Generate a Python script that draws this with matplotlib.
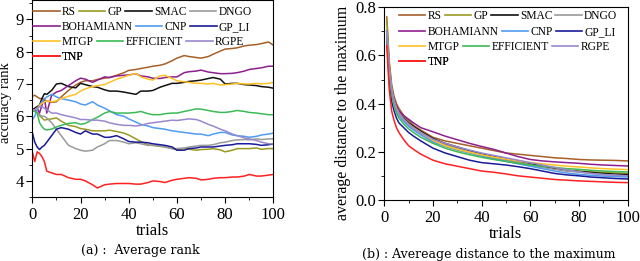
import matplotlib
matplotlib.use("Agg")
import matplotlib.pyplot as plt
from matplotlib.lines import Line2D
from matplotlib.ticker import MultipleLocator

plt.rcParams['font.family'] = ['Liberation Serif', 'DejaVu Serif']

names = ['RS', 'GP', 'SMAC', 'DNGO', 'BOHAMIANN', 'CNP', 'GP_LI',
         'MTGP', 'EFFICIENT', 'RGPE', 'TNP']
colors = ['#a6602a', '#999922', '#111111', '#9a9a9a', '#8e1f8e', '#4f9cf0',
          '#1a1a9a', '#ffc125', '#3cba55', '#9a88cc', '#ff2020']
legend_rows = [['RS', 'GP', 'SMAC', 'DNGO'],
               ['BOHAMIANN', 'CNP', 'GP_LI'],
               ['MTGP', 'EFFICIENT', 'RGPE'],
               ['TNP']]

# (a) average rank
x_a = [0, 1, 2, 3, 4, 5, 6, 8, 10, 12, 15, 18, 20, 22, 25, 27, 30, 32, 35, 38,
       40, 43, 45, 48, 50, 53, 55, 58, 60, 63, 65, 68, 70, 73, 75, 78, 80, 83,
       85, 88, 90, 93, 95, 98, 100]
rank_rs = [6.62, 6.65, 6.6, 6.55, 6.55, 6.5, 6.48, 6.43, 6.45, 6.6,
           6.8, 6.97, 7.05, 7.1, 7.1, 7.14, 7.18, 7.2, 7.27, 7.35, 7.42, 7.45,
           7.48, 7.52, 7.55, 7.58, 7.62, 7.72, 7.8, 7.88, 7.85, 7.82, 7.8, 7.85,
           7.92, 8.02, 8.08, 8.1, 8.12, 8.18, 8.2, 8.22, 8.25, 8.3, 8.2]
rank_gp = [6.2, 6.2, 6.12, 6.02, 5.95, 5.88, 5.9, 5.92, 5.95, 5.85,
           5.72, 5.68, 5.62, 5.6, 5.55, 5.55, 5.55, 5.57, 5.53, 5.48, 5.42, 5.3,
           5.22, 5.12, 5.1, 5.07, 5.05, 5.0, 4.97, 5.0, 4.98, 4.95, 4.97, 4.98,
           5.0, 4.96, 4.9, 4.95, 5.0, 5.0, 5.0, 5.02, 4.98, 5.0, 5.0]
rank_smac = [6.2, 6.25, 6.3, 6.35, 6.55, 6.7, 6.68, 6.8, 7.0, 7.02,
             6.92, 6.88, 7.02, 6.98, 6.92, 6.9, 6.82, 6.78, 6.78, 6.75, 6.72, 6.68,
             6.78, 6.78, 6.8, 6.9, 6.95, 7.02, 7.02, 7.05, 7.08, 7.1, 7.12, 7.17,
             7.2, 7.15, 7.0, 7.02, 7.02, 6.98, 6.97, 6.95, 6.92, 6.9, 6.87]
rank_dngo = [6.2, 6.2, 6.1, 6.05, 6.0, 6.0, 5.95, 5.8, 5.6, 5.4,
             5.1, 5.0, 4.95, 4.92, 4.95, 5.05, 5.15, 5.25, 5.25, 5.2, 5.15, 5.18,
             5.15, 5.1, 5.1, 5.08, 5.05, 5.0, 5.0, 5.02, 5.05, 5.08, 5.1, 5.1,
             5.12, 5.18, 5.2, 5.25, 5.27, 5.28, 5.27, 5.3, 5.28, 5.3, 5.3]
rank_boh = [6.2, 6.15, 6.25, 6.1, 6.35, 6.55, 6.1, 6.65, 6.75, 6.8,
            6.95, 7.1, 7.18, 7.15, 7.05, 7.12, 7.22, 7.2, 7.25, 7.27, 7.28, 7.32,
            7.25, 7.22, 7.18, 7.17, 7.2, 7.22, 7.22, 7.35, 7.38, 7.4, 7.43, 7.37,
            7.35, 7.32, 7.32, 7.33, 7.35, 7.4, 7.45, 7.48, 7.5, 7.55, 7.55]
rank_cnp = [5.9, 6.0, 6.2, 6.35, 6.45, 6.53, 6.6, 6.68, 6.6, 6.55,
            6.5, 6.45, 6.38, 6.35, 6.45, 6.35, 6.25, 6.17, 6.05, 6.0, 5.92, 5.82,
            5.75, 5.7, 5.65, 5.62, 5.6, 5.55, 5.53, 5.5, 5.48, 5.45, 5.45, 5.4,
            5.45, 5.5, 5.5, 5.42, 5.4, 5.38, 5.35, 5.38, 5.42, 5.45, 5.48]
rank_gpli = [5.5, 5.2, 5.05, 4.97, 5.05, 5.1, 5.2, 5.4, 5.6, 5.65,
             5.6, 5.5, 5.45, 5.55, 5.45, 5.45, 5.35, 5.35, 5.4, 5.3, 5.22, 5.2,
             5.2, 5.18, 5.15, 5.12, 5.1, 5.05, 4.95, 4.95, 5.0, 5.02, 5.05, 5.05,
             5.05, 5.08, 5.1, 5.12, 5.15, 5.15, 5.15, 5.13, 5.1, 5.12, 5.15]
rank_mtgp = [6.15, 6.2, 6.25, 6.33, 6.4, 6.45, 6.48, 6.45, 6.48, 6.55,
             6.62, 6.68, 6.78, 6.85, 6.92, 6.95, 6.98, 7.05, 7.15, 7.22, 7.27, 7.33,
             7.22, 7.15, 7.12, 7.25, 7.27, 7.17, 7.1, 7.07, 7.05, 7.02, 7.02, 7.0,
             7.02, 6.97, 6.98, 7.0, 7.02, 7.0, 7.0, 7.02, 7.0, 7.02, 7.05]
rank_eff = [6.2, 6.15, 6.1, 5.8, 5.68, 5.6, 5.58, 5.6, 5.67, 5.72,
            5.78, 5.8, 5.75, 5.78, 5.9, 5.97, 6.1, 6.15, 6.1, 6.1, 6.1, 6.12,
            6.15, 6.08, 6.05, 6.05, 6.08, 6.1, 6.1, 6.15, 6.18, 6.23, 6.22, 6.18,
            6.15, 6.12, 6.12, 6.15, 6.18, 6.15, 6.12, 6.1, 6.08, 6.05, 6.05]
rank_rgpe = [6.2, 6.2, 6.25, 6.3, 6.3, 6.25, 6.2, 6.1, 6.1, 6.05,
             6.0, 5.95, 5.9, 5.9, 5.88, 5.88, 5.85, 5.8, 5.75, 5.72, 5.72, 5.7,
             5.72, 5.78, 5.8, 5.83, 5.85, 5.88, 5.87, 5.9, 5.92, 5.9, 5.85, 5.75,
             5.7, 5.6, 5.55, 5.45, 5.4, 5.33, 5.3, 5.25, 5.2, 5.15, 5.15]
rank_tnp = [4.9, 4.6, 4.9, 4.85, 4.75, 4.6, 4.3, 4.25, 4.2, 4.2,
            4.1, 4.05, 4.05, 4.0, 3.88, 3.78, 3.88, 3.9, 3.92, 3.92, 3.92, 3.9,
            3.9, 3.95, 4.0, 3.98, 3.95, 4.02, 4.05, 4.08, 4.1, 4.08, 4.03, 4.05,
            4.08, 4.1, 4.1, 4.12, 4.12, 4.15, 4.2, 4.15, 4.15, 4.18, 4.2]
ranks = [rank_rs, rank_gp, rank_smac, rank_dngo, rank_boh, rank_cnp,
         rank_gpli, rank_mtgp, rank_eff, rank_rgpe, rank_tnp]

# (b) average distance to the maximum
x_b = [1, 2, 3, 4, 5, 6, 8, 10, 12, 15, 20, 25, 30, 35, 40, 45, 50, 55, 60,
       65, 70, 75, 80, 85, 90, 95, 100]
dist_rs = [0.76, 0.58, 0.48, 0.43, 0.40, 0.38, 0.35, 0.33, 0.31, 0.29, 0.26,
           0.245, 0.235, 0.225, 0.215, 0.205, 0.195, 0.19, 0.185, 0.18, 0.175,
           0.172, 0.168, 0.166, 0.165, 0.164, 0.162]
dist_gp = [0.75, 0.57, 0.47, 0.42, 0.39, 0.37, 0.34, 0.32, 0.30, 0.28, 0.25,
           0.232, 0.215, 0.2, 0.185, 0.175, 0.165, 0.155, 0.145, 0.137, 0.13,
           0.125, 0.12, 0.117, 0.114, 0.112, 0.11]
dist_smac = [0.70, 0.55, 0.46, 0.41, 0.38, 0.36, 0.34, 0.32, 0.305, 0.285,
             0.255, 0.235, 0.22, 0.205, 0.19, 0.18, 0.17, 0.162, 0.152, 0.14,
             0.13, 0.122, 0.118, 0.114, 0.11, 0.107, 0.105]
dist_dngo = [0.70, 0.55, 0.46, 0.41, 0.38, 0.355, 0.33, 0.31, 0.295, 0.275,
             0.245, 0.228, 0.213, 0.2, 0.187, 0.176, 0.165, 0.155, 0.145, 0.135,
             0.127, 0.12, 0.115, 0.11, 0.106, 0.103, 0.1]
dist_boh = [0.70, 0.55, 0.46, 0.42, 0.39, 0.37, 0.35, 0.335, 0.32, 0.30,
            0.283, 0.265, 0.25, 0.235, 0.222, 0.21, 0.195, 0.18, 0.168, 0.162,
            0.158, 0.155, 0.152, 0.148, 0.145, 0.143, 0.141]
dist_cnp = [0.70, 0.54, 0.45, 0.40, 0.37, 0.35, 0.325, 0.305, 0.29, 0.27,
            0.24, 0.222, 0.207, 0.195, 0.182, 0.17, 0.16, 0.15, 0.14, 0.13,
            0.12, 0.112, 0.106, 0.102, 0.099, 0.097, 0.095]
dist_gpli = [0.68, 0.50, 0.41, 0.37, 0.34, 0.32, 0.30, 0.28, 0.265, 0.245,
             0.215, 0.195, 0.18, 0.165, 0.155, 0.15, 0.145, 0.138, 0.13, 0.12,
             0.11, 0.104, 0.1, 0.095, 0.092, 0.089, 0.087]
dist_mtgp = [0.70, 0.55, 0.46, 0.41, 0.38, 0.36, 0.335, 0.315, 0.3, 0.28,
             0.248, 0.225, 0.21, 0.198, 0.187, 0.178, 0.17, 0.162, 0.155, 0.15,
             0.145, 0.14, 0.137, 0.133, 0.13, 0.128, 0.126]
dist_eff = [0.70, 0.53, 0.44, 0.39, 0.36, 0.34, 0.315, 0.295, 0.28, 0.26,
            0.235, 0.215, 0.2, 0.188, 0.177, 0.168, 0.16, 0.152, 0.145, 0.14,
            0.135, 0.13, 0.127, 0.123, 0.12, 0.118, 0.116]
dist_rgpe = [0.70, 0.55, 0.46, 0.41, 0.38, 0.36, 0.335, 0.315, 0.3, 0.28,
             0.252, 0.235, 0.22, 0.207, 0.195, 0.185, 0.175, 0.165, 0.155, 0.145,
             0.135, 0.125, 0.117, 0.11, 0.105, 0.102, 0.1]
dist_tnp = [0.64, 0.46, 0.37, 0.33, 0.30, 0.28, 0.25, 0.225, 0.21, 0.19,
            0.165, 0.15, 0.14, 0.13, 0.12, 0.115, 0.108, 0.1, 0.095, 0.09,
            0.085, 0.082, 0.079, 0.077, 0.075, 0.073, 0.072]
dists = [dist_rs, dist_gp, dist_smac, dist_dngo, dist_boh, dist_cnp,
         dist_gpli, dist_mtgp, dist_eff, dist_rgpe, dist_tnp]


def row_legends(ax, x0, ys):
    col = dict(zip(names, colors))
    for row, y in zip(legend_rows, ys):
        handles = [Line2D([], [], color=col[n], lw=1.2) for n in row]
        leg = ax.legend(handles, row, ncol=len(row), loc='center left',
                        bbox_to_anchor=(x0, y), frameon=False, fontsize=8.3,
                        handlelength=2.3, handletextpad=0.2, columnspacing=0.25,
                        borderpad=0, borderaxespad=0)
        ax.add_artist(leg)


def style(ax):
    ax.tick_params(which='both', direction='out', labelsize=12,
                   top=False, right=False)
    ax.tick_params(which='major', length=4)
    ax.tick_params(which='minor', length=2)
    ax.tick_params(axis='y', pad=2)
    ax.set_xlim(0, 100)
    ax.xaxis.set_major_locator(MultipleLocator(20))
    ax.xaxis.set_minor_locator(MultipleLocator(10))
    ax.set_xlabel('trials', fontsize=12, labelpad=0)


fig = plt.figure(figsize=(6.4, 2.61), dpi=100)
ax1 = fig.add_axes([0.0505, 0.245, 0.3766, 0.755])
ax2 = fig.add_axes([0.6005, 0.234, 0.38, 0.738])

for ys, c in zip(ranks, colors):
    ax1.plot(x_a, ys, color=c, lw=1.1)
ax1.set_ylim(3.5, 9.6)
ax1.yaxis.set_major_locator(MultipleLocator(1))
ax1.yaxis.set_minor_locator(MultipleLocator(0.5))
ax1.set_ylabel('accuracy rank', fontsize=10.5)
ax1.yaxis.set_label_coords(-0.083, 0.48)
style(ax1)
row_legends(ax1, 0.004, [0.938, 0.864, 0.785, 0.712])

for ys, c in zip(dists, colors):
    ax2.plot(x_b, ys, color=c, lw=1.1)
ax2.set_ylim(0, 0.8)
ax2.yaxis.set_major_locator(MultipleLocator(0.2))
ax2.yaxis.set_minor_locator(MultipleLocator(0.1))
ax2.set_ylabel('average distance to the maximum', fontsize=11.5)
ax2.yaxis.set_label_coords(-0.135, 0.45)
style(ax2)
row_legends(ax2, 0.06, [0.955, 0.872, 0.794, 0.716])

fig.text(0.22, 0.04, '(a) :  Average rank', ha='center', va='center',
         fontsize=9, family='DejaVu Serif')
fig.text(0.763, 0.023, '(b) : Avereage distance to the maximum', ha='center',
         va='center', fontsize=9, family='DejaVu Serif')

fig.savefig('out.png', dpi=100)
